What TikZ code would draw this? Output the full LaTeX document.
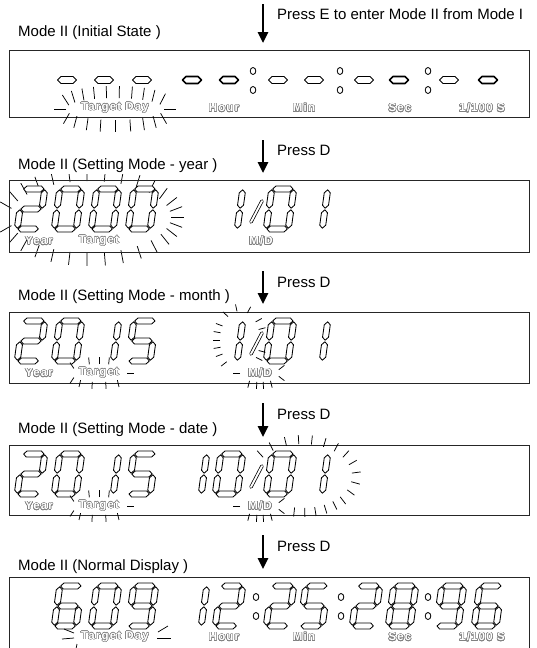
\documentclass[tikz,border=0pt]{standalone}
\usepackage{fontspec}
\setmainfont{Liberation Sans}
\newfontfamily\lblfont{Liberation Sans}[LetterSpace=10]
\usepackage{contour}
\contourlength{0.5pt}
\contournumber{24}
\usetikzlibrary{arrows.meta}

\tikzset{
  seg/.style={draw=black, line width=0.85pt, fill=white, line join=round},
  boxfr/.style={draw=black!85, line width=0.9pt, inner sep=0, outer sep=0, anchor=north west},
  ttl/.style={anchor=west, inner sep=0, font=\fontsize{15}{18}\selectfont},
  parr/.style={-{Triangle[width=10pt,length=11pt]}, line width=2.6pt},
  lbl/.style={inner sep=0, font=\lblfont\fontsize{11.5}{13}\selectfont\bfseries},
  ray/.style={draw=black, line width=0.75pt},
  hexthin/.style={draw=black, line width=0.8pt, fill=white, line join=round},
  hexbold/.style={draw=black, line width=1.6pt, fill=white, line join=round},
  slashbar/.style={draw=black, line width=0.75pt, double=white, double distance=1.9pt, line cap=round},
}

\newcommand\lab[1]{\contour{black!50}{\textcolor{white}{#1}}}
\newcommand\hsg[3]{\draw[seg] (#1,#3) -- ({#1+3},{#3-3}) -- ({#2-3},{#3-3}) -- (#2,#3) -- ({#2-3},{#3+3}) -- ({#1+3},{#3+3}) -- cycle;}
\newcommand\vsg[3]{\draw[seg] (#1,#2) -- ({#1+3},{#2+3}) -- ({#1+3},{#3-3}) -- (#1,#3) -- ({#1-3},{#3-3}) -- ({#1-3},{#2+3}) -- cycle;}
\newcommand\dsega{\hsg{-10.2}{10.2}{-20}}
\newcommand\dsegg{\hsg{-10.2}{10.2}{0}}
\newcommand\dsegd{\hsg{-10.2}{10.2}{20}}
\newcommand\dsegf{\vsg{-11}{-19.2}{-0.8}}
\newcommand\dsege{\vsg{-11}{0.8}{19.2}}
\newcommand\dsegb{\vsg{11}{-19.2}{-0.8}}
\newcommand\dsegc{\vsg{11}{0.8}{19.2}}
\newcommand\dgt[3]{\begin{scope}[shift={(#1,#2)},xslant=0.14]\foreach \s in {#3}{\csname dseg\s\endcsname}\end{scope}}
\newcommand\hexg[3]{\draw[#3] ({#1-9.5},#2) -- ({#1-6},{#2-3.5}) -- ({#1+6},{#2-3.5}) -- ({#1+9.5},#2) -- ({#1+6},{#2+3.5}) -- ({#1-6},{#2+3.5}) -- cycle;}
\newcommand\colonpair[3]{\draw[seg] (#1,#2) ellipse [x radius=2.8, y radius=3.5]; \draw[seg] (#1,#3) ellipse [x radius=2.8, y radius=3.5];}
\newcommand\flash[7]{%
  \foreach \t in {#7}{%
    \pgfmathsetmacro\fnx{#4*cos(\t)}%
    \pgfmathsetmacro\fny{#3*sin(\t)}%
    \pgfmathsetmacro\fnn{max(sqrt(\fnx*\fnx+\fny*\fny),0.001)}%
    \pgfmathsetmacro\fpx{#1+#3*cos(\t)}%
    \pgfmathsetmacro\fpy{#2+#4*sin(\t)}%
    \draw[ray] ({\fpx+(#5)*\fnx/\fnn},{\fpy+(#5)*\fny/\fnn}) -- ({\fpx+(#6)*\fnx/\fnn},{\fpy+(#6)*\fny/\fnn});
  }}

\begin{document}
\begin{tikzpicture}[x=1pt,y=-1pt]
\useasboundingbox (0,0) rectangle (537,648);

% ---------- Box 1: initial state ----------
\coordinate (a1s) at (263,4); \coordinate (a1e) at (263,43);
\draw[parr] (a1s) -- (a1e);
\node[ttl] (p1) at (277,14) {Press E to enter Mode II from Mode I};
\node[ttl] (t1) at (18,33) {Mode II (Initial State )};
\node[boxfr, minimum width=519.5pt, minimum height=67pt] (box1) at (9.5,50) {};
\foreach \cx in {67,104,142,278,314,364,449} {\hexg{\cx}{80}{hexthin}}
\foreach \cx in {192,229,399,488} {\hexg{\cx}{80}{hexbold}}
\colonpair{253}{71}{90}
\colonpair{340}{71}{90}
\colonpair{428}{71}{90}
\flash{115}{109}{48}{10}{1}{13}{180,198,214,230,245,260,275,290,305,320,338,0,20,38,55,72,90,107,124,142,160}
\node[lbl] (b1l1) at (115,108) {\lab{Target Day}};
\node[lbl] (b1l2) at (224,108) {\lab{Hour}};
\node[lbl] (b1l3) at (304,108) {\lab{Min}};
\node[lbl] (b1l4) at (400,108) {\lab{Sec}};
\node[lbl] (b1l5) at (482,108) {\lab{1/100 S}};

% ---------- Box 2: setting year ----------
\coordinate (a2s) at (263,140); \coordinate (a2e) at (263,173);
\draw[parr] (a2s) -- (a2e);
\node[ttl] (p2) at (277,150) {Press D};
\flash{90}{217}{84}{39}{-3}{10}{0,10,20,30,42,55,68,80,92,104,116,128,140,152,165,195,208,220,232,244,256,268,280,292,304,316,328,340,350}
\node[ttl, fill=white, inner ysep=1pt] (t2) at (18,166) {Mode II (Setting Mode - year )};
\node[boxfr, minimum width=519.5pt, minimum height=72pt] (box2) at (9.5,180) {};
\dgt{31}{209}{a,b,g,e,d}
\dgt{68}{209}{a,b,c,d,e,f}
\dgt{105}{209}{a,b,c,d,e,f}
\dgt{142}{209}{a,b,c,d,e,f}
\dgt{229}{209}{b,c}
\coordinate (s2a) at (251,222); \coordinate (s2b) at (262,201);
\draw[slashbar] (s2a) -- (s2b);
\dgt{280}{209}{a,b,c,d,e,f}
\dgt{314}{209}{b,c}
\node[lbl] (b2l1) at (39,241) {\lab{Year}};
\node[lbl] (b2l2) at (99,241) {\lab{Target}};
\node[lbl] (b2l3) at (261,241) {\lab{M/D}};

% ---------- Box 3: setting month ----------
\coordinate (a3s) at (263,271); \coordinate (a3e) at (263,304);
\draw[parr] (a3s) -- (a3e);
\node[ttl] (p3) at (277,282) {Press D};
\node[ttl] (t3) at (18,297) {Mode II (Setting Mode - month )};
\node[boxfr, minimum width=519.5pt, minimum height=71pt] (box3) at (9.5,312) {};
\dgt{31}{341}{a,b,g,e,d}
\dgt{68}{341}{a,b,c,d,e,f}
\dgt{105}{341}{b,c}
\dgt{142}{341}{a,f,g,c,d}
\dgt{229}{341}{b,c}
\coordinate (s3a) at (251,354); \coordinate (s3b) at (262,333);
\draw[slashbar] (s3a) -- (s3b);
\dgt{280}{341}{a,b,c,d,e,f}
\dgt{314}{341}{b,c}
\flash{99}{373}{25}{6}{3}{10}{160,200,248,270,292,0,45,75,105,135}
\flash{260}{373}{17}{6}{3}{10}{180,345,15,55,80,100,125}
\flash{240}{340}{17}{26}{3}{10}{130,150,165,180,195,210,235,262,290,320,338,22,38}
\node[lbl] (b3l1) at (39,373) {\lab{Year}};
\node[lbl] (b3l2) at (99,373) {\lab{Target}};
\node[lbl] (b3l3) at (260,373) {\lab{M/D}};

% ---------- Box 4: setting date ----------
\coordinate (a4s) at (263,403); \coordinate (a4e) at (263,437);
\draw[parr] (a4s) -- (a4e);
\node[ttl] (p4) at (277,414) {Press D};
\node[ttl] (t4) at (18,430) {Mode II (Setting Mode - date )};
\node[boxfr, minimum width=519.5pt, minimum height=70pt] (box4) at (9.5,445) {};
\dgt{31}{474}{a,b,g,e,d}
\dgt{68}{474}{a,b,c,d,e,f}
\dgt{105}{474}{b,c}
\dgt{142}{474}{a,f,g,c,d}
\dgt{193}{474}{b,c}
\dgt{229}{474}{a,b,c,d,e,f}
\coordinate (s4a) at (251,487); \coordinate (s4b) at (262,466);
\draw[slashbar] (s4a) -- (s4b);
\dgt{280}{474}{a,b,c,d,e,f}
\dgt{314}{474}{b,c}
\flash{99}{506}{25}{6}{3}{10}{160,200,248,270,292,0,45,75,105,135}
\flash{260}{506}{17}{6}{3}{10}{180,345,15,55,80,100,125}
\flash{303}{476}{47}{30}{2}{11}{215,232,250,265,280,295,310,325,340,355,10,25,40,52,64,76,88,100}
\node[lbl] (b4l1) at (39,506) {\lab{Year}};
\node[lbl] (b4l2) at (99,506) {\lab{Target}};
\node[lbl] (b4l3) at (260,506) {\lab{M/D}};

% ---------- Box 5: normal display ----------
\coordinate (a5s) at (263,535); \coordinate (a5e) at (263,569);
\draw[parr] (a5s) -- (a5e);
\node[ttl] (p5) at (277,546) {Press D};
\node[ttl] (t5) at (18,567) {Mode II (Normal Display )};
\node[boxfr, minimum width=519.5pt, minimum height=80pt] (box5) at (9.5,577) {};
\dgt{68}{606}{a,f,g,e,d,c}
\dgt{105}{606}{a,b,c,d,e,f}
\dgt{142}{606}{a,b,c,d,f,g}
\dgt{193}{606}{b,c}
\dgt{229}{606}{a,b,g,e,d}
\colonpair{256}{597}{616}
\dgt{280}{606}{a,b,g,e,d}
\dgt{314}{606}{a,f,g,c,d}
\colonpair{341}{597}{616}
\dgt{366}{606}{a,b,g,e,d}
\dgt{402}{606}{a,b,c,d,e,f,g}
\colonpair{428}{597}{616}
\dgt{450}{606}{a,b,c,d,f,g}
\dgt{488}{606}{a,f,g,e,d,c}
\draw[ray] (64,629) -- (74,633);
\draw[ray] (62,639) -- (74,638);
\draw[ray] (158,632) -- (168,626);
\draw[ray] (157,638) -- (171,638);
\draw[ray] (77,644) -- (76,649);
\node[lbl] (b5l1) at (115,637) {\lab{Target Day}};
\node[lbl] (b5l2) at (224,637) {\lab{Hour}};
\node[lbl] (b5l3) at (304,637) {\lab{Min}};
\node[lbl] (b5l4) at (400,637) {\lab{Sec}};
\node[lbl] (b5l5) at (482,637) {\lab{1/100 S}};
\end{tikzpicture}
\end{document}
